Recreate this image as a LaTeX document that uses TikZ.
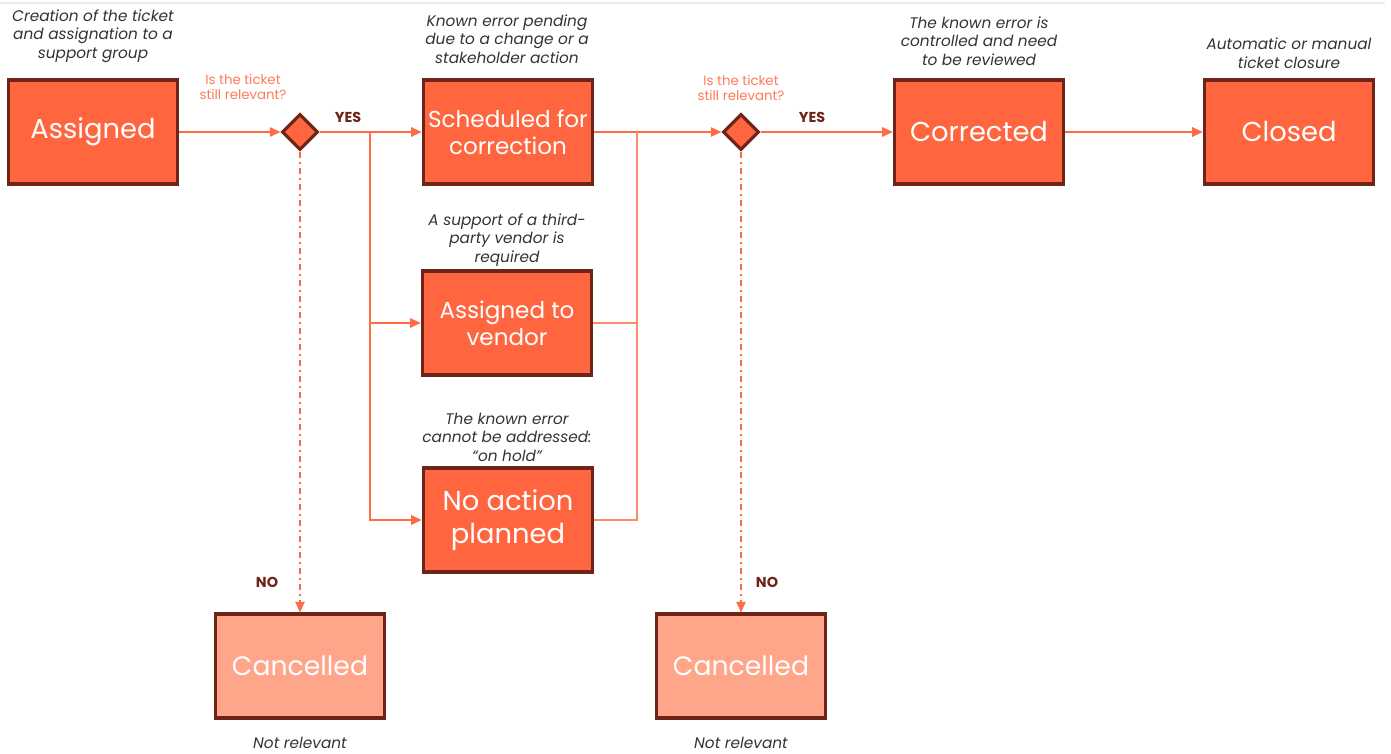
\documentclass[tikz,border=0pt]{standalone}
\usepackage{fontspec}
\setmainfont{Poppins}
\usetikzlibrary{arrows.meta,shapes.geometric}

\definecolor{boxfill}{HTML}{FF6640}
\definecolor{boxedge}{HTML}{6E2416}
\definecolor{softfill}{HTML}{FFA58A}
\definecolor{flowcol}{HTML}{FF6B45}
\definecolor{joincol}{HTML}{FF8A6C}
\definecolor{askcol}{HTML}{FF7A58}
\definecolor{notecol}{HTML}{333333}
\definecolor{tagcol}{HTML}{6E2416}

\tikzset{
  state/.style={draw=boxedge, line width=2.3pt, fill=boxfill, text=white,
    minimum width=127pt, minimum height=78pt, inner sep=0pt, align=center,
    font=\fontsize{20.5}{25}\selectfont},
  smallstate/.style={state, font=\fontsize{17.3}{20}\selectfont},
  deadstate/.style={state, fill=softfill, font=\fontsize{20}{25}\selectfont},
  choice/.style={diamond, draw=boxedge, line width=2.3pt, fill=boxfill,
    minimum width=27pt, minimum height=27pt, inner sep=0pt},
  flow/.style={draw=flowcol, line width=1.4pt,
    -{Triangle[length=8pt,width=7pt]}},
  mergeline/.style={draw=joincol, line width=1pt},
  nobranch/.style={flow, line width=1pt, dash pattern=on 5pt off 3pt on 1pt off 3pt},
  note/.style={text=notecol, align=center,
    font=\itshape\fontsize{11.5}{13.9}\selectfont},
  ask/.style={text=askcol, align=center, font=\fontsize{10}{11.4}\selectfont},
  tag/.style={text=tagcol, font=\bfseries\fontsize{10.8}{12}\selectfont},
}

\begin{document}
\begin{tikzpicture}[x=0.75pt, y=-0.75pt]
\useasboundingbox (0,0) rectangle (1391,753);
\draw[black!8, line width=0.8pt] (0,3) -- (1385,3);

% states
\node[state]      (assigned)  at (93,132)   {Assigned};
\node[smallstate] (scheduled) at (508,132)  {Scheduled for\\correction};
\node[smallstate] (vendor)    at (507,323)  {Assigned to\\vendor};
\node[state]      (noaction)  at (508,520)  {No action\\planned};
\node[state]      (corrected) at (979,132)  {Corrected};
\node[state]      (closed)    at (1289,132) {Closed};
\node[deadstate]  (cancelA)   at (300,666)  {Cancelled};
\node[deadstate]  (cancelB)   at (741,666)  {Cancelled};

% decisions
\node[choice] (relevantA) at (300,132) {};
\node[choice] (relevantB) at (741,132) {};

% notes above / below the states
\node[note] (nAssigned)  at (93,36)   {Creation of the ticket\\and assignation to a\\support group};
\node[note] (nScheduled) at (507,39)  {Known error pending\\due to a change or a\\stakeholder action};
\node[note] (nVendor)    at (507,240) {A support of a third-\\party vendor is\\required};
\node[note] (nNoAction)  at (507,437) {The known error\\cannot be addressed:\\“on hold”};
\node[note] (nCorrected) at (979,41)  {The known error is\\controlled and need\\to be reviewed};
\node[note] (nClosed)    at (1289,53) {Automatic or manual\\ticket closure};
\node[note] (nCancelA)   at (300,743) {Not relevant};
\node[note] (nCancelB)   at (741,743) {Not relevant};

% decision questions and branch tags
\node[ask] (askA) at (243,87) {Is the ticket\\still relevant?};
\node[ask] (askB) at (741,88) {Is the ticket\\still relevant?};
\node[tag] (yesA) at (348,117) {YES};
\node[tag] (yesB) at (812,117) {YES};
\node[tag] (noA)  at (267,582) {NO};
\node[tag] (noB)  at (767,582) {NO};

% junction points
\coordinate (split)   at (370,132);
\coordinate (collect) at (637,132);

% connectors
\draw[flow] (assigned.east) -- (relevantA.west);
\draw[flow] (relevantA.east) -- (scheduled.west);
\draw[flow] (split) |- (vendor.west);
\draw[flow] (split) |- (noaction.west);
\draw[flow] (scheduled.east) -- (relevantB.west);
\draw[mergeline] (vendor.east) -| (collect);
\draw[mergeline] (noaction.east) -| (collect);
\draw[flow] (relevantB.east) -- (corrected.west);
\draw[flow] (corrected.east) -- (closed.west);
\draw[nobranch] (relevantA.south) -- (cancelA.north);
\draw[nobranch] (relevantB.south) -- (cancelB.north);
\end{tikzpicture}
\end{document}
